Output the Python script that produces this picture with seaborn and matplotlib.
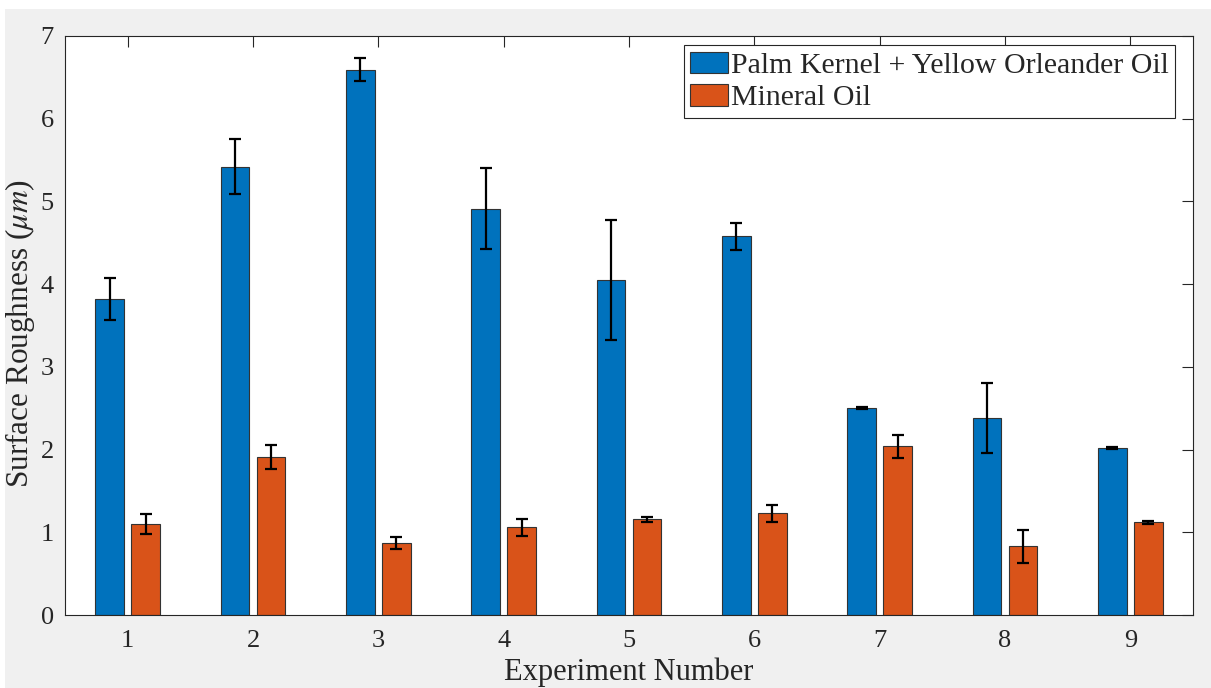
import numpy as np
import pandas as pd
import matplotlib
matplotlib.use("Agg")
import matplotlib.pyplot as plt
from matplotlib.patches import Rectangle
import seaborn as sns

# Surface roughness per experiment, mean and error for each lubricant
experiments = ["1", "2", "3", "4", "5", "6", "7", "8", "9"]
series_names = ["Palm Kernel + Yellow Orleander Oil", "Mineral Oil"]
palm_mean = [3.82, 5.42, 6.59, 4.91, 4.05, 4.58, 2.50, 2.38, 2.02]
palm_err = [0.25, 0.33, 0.14, 0.49, 0.72, 0.165, 0.01, 0.42, 0.01]
mineral_mean = [1.10, 1.91, 0.87, 1.06, 1.16, 1.23, 2.04, 0.83, 1.12]
mineral_err = [0.125, 0.14, 0.07, 0.10, 0.03, 0.10, 0.14, 0.20, 0.02]
yticks = [0, 1, 2, 3, 4, 5, 6, 7]

colors = ["#0072BD", "#D95319"]
ink = "#262626"

df = pd.DataFrame({
    "Experiment": experiments * 2,
    "Lubricant": [series_names[0]] * len(experiments) + [series_names[1]] * len(experiments),
    "Roughness": palm_mean + mineral_mean,
})
errors = [palm_err, mineral_err]

sns.set_style("white")
plt.rcParams["font.family"] = ["Liberation Serif", "DejaVu Serif"]
plt.rcParams["mathtext.fontset"] = "stix"

fig = plt.figure(figsize=(12.11, 6.88), dpi=100, facecolor="white")
fig.patches.append(Rectangle((5 / 1211, 0), 1 - 5 / 1211, 1 - 9 / 688,
                             transform=fig.transFigure, facecolor="#f0f0f0",
                             edgecolor="none", zorder=-10))
ax = fig.add_axes([65 / 1211, (688 - 615) / 688, (1193 - 65) / 1211, (615 - 36) / 688])
ax.set_facecolor("white")

sns.barplot(data=df, x="Experiment", y="Roughness", hue="Lubricant",
            hue_order=series_names, palette=colors, width=0.576, gap=0.2,
            errorbar=None, edgecolor="#333333", linewidth=0.8, saturation=1,
            ax=ax)

# Error bars placed on the drawn bars
for container, err in zip(ax.containers, errors):
    xs = [p.get_x() + p.get_width() / 2 for p in container.patches]
    hs = [p.get_height() for p in container.patches]
    ax.errorbar(xs, hs, yerr=err, fmt="none", ecolor="black",
                elinewidth=1.6, capsize=4, capthick=1.6, zorder=5)

ax.set_xlim(-0.5, len(experiments) - 0.5)
ax.set_ylim(0, 7)
ax.set_yticks(yticks)
ax.set_yticklabels([str(t) for t in yticks])
ax.set_xticks(range(len(experiments)))
ax.set_xticklabels(experiments)

ax.tick_params(axis="both", direction="in", length=8, width=0.8, color=ink,
               labelsize=19, labelcolor=ink, top=True, right=True)
ax.tick_params(axis="x", pad=11)
ax.tick_params(axis="y", pad=8)
for s in ax.spines.values():
    s.set_visible(True)
    s.set_color(ink)
    s.set_linewidth(0.8)

ax.set_xlabel("Experiment Number", fontsize=22, color=ink, labelpad=4)
ax.set_ylabel(r"Surface Roughness ($\mu m$)", fontsize=22.5, color=ink)
ax.yaxis.set_label_coords(-0.0245, 0.486)

leg = ax.legend(loc="upper right", bbox_to_anchor=((1175 - 65) / 1128, (615 - 45) / 579),
                borderaxespad=0, fontsize=21.5, frameon=True, fancybox=False,
                edgecolor=ink, framealpha=1, borderpad=0.22, handlelength=1.25,
                handleheight=0.75, handletextpad=0.1, labelspacing=0.16,
                title=None)
leg.get_frame().set_linewidth(0.8)

fig.savefig("out.png", dpi=100, facecolor=fig.get_facecolor())
